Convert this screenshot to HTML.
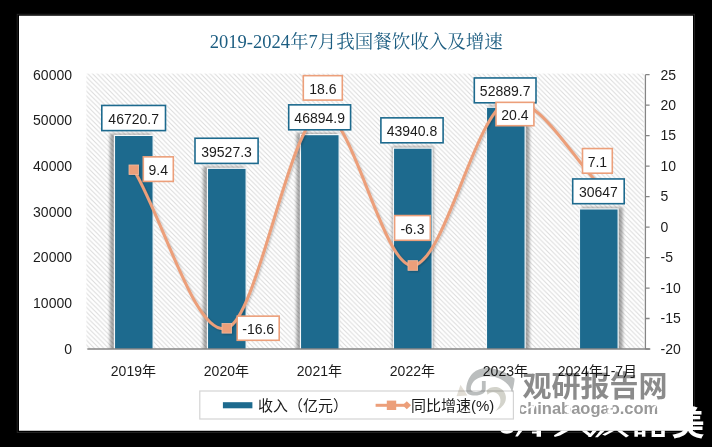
<!DOCTYPE html>
<html><head><meta charset="utf-8"><title>chart</title>
<style>html,body{margin:0;padding:0;background:#000;}body{width:712px;height:447px;overflow:hidden;font-family:"Liberation Sans",sans-serif;}svg{display:block}</style>
</head><body>
<svg width="712" height="447" viewBox="0 0 712 447">
<defs>
<pattern id="hatch" width="4.7" height="4.7" patternUnits="userSpaceOnUse">
<rect width="4.7" height="4.7" fill="#ffffff"/>
<path d="M-1,-1 L5.7,5.7 M-1,3.7 L1,5.7 M3.7,-1 L5.7,1" stroke="#dadada" stroke-width="0.95"/>
</pattern>
<filter id="sh" x="-30%" y="-10%" width="160%" height="120%">
<feGaussianBlur in="SourceAlpha" stdDeviation="2.0"/>
<feOffset dx="-1.7" dy="0.3"/>
<feComponentTransfer><feFuncA type="linear" slope="0.8"/></feComponentTransfer>
<feMerge><feMergeNode/><feMergeNode in="SourceGraphic"/></feMerge>
</filter>
<filter id="shl" x="-10%" y="-10%" width="120%" height="120%">
<feGaussianBlur in="SourceAlpha" stdDeviation="1.2"/>
<feOffset dx="0.5" dy="1"/>
<feComponentTransfer><feFuncA type="linear" slope="0.25"/></feComponentTransfer>
<feMerge><feMergeNode/><feMergeNode in="SourceGraphic"/></feMerge>
</filter>
</defs>
<rect width="712" height="447" fill="#000"/>
<rect x="17.2" y="14.25" width="677.4" height="418.3" fill="none" stroke="#262626" stroke-width="0.9"/>
<rect x="19.0" y="15.75" width="674.0" height="415.0" fill="#fff"/>
<rect x="86.4" y="73.6" width="557.4" height="275.4" fill="url(#hatch)"/>
<clipPath id="pc"><rect x="60" y="60" width="620" height="289.0"/></clipPath>
<filter id="bl" x="-5%" y="-5%" width="110%" height="110%"><feGaussianBlur stdDeviation="1.5"/></filter>
<g clip-path="url(#pc)">
<g filter="url(#bl)" opacity="0.34">
<rect x="109.85" y="133.61" width="41.5" height="222.99" fill="#000"/>
<rect x="203.05" y="166.49" width="41.5" height="190.11" fill="#000"/>
<rect x="296.45" y="132.81" width="41.5" height="223.79" fill="#000"/>
<rect x="392.05" y="146.32" width="41.5" height="210.28" fill="#000"/>
<rect x="488.05" y="105.41" width="41.5" height="251.19" fill="#000"/>
<rect x="581.25" y="207.09" width="41.5" height="149.51" fill="#000"/>
</g>
<rect x="114.45" y="135.41" width="38.7" height="219.59" fill="#1d6a8e" stroke="#f4f8fa" stroke-width="1.2"/>
<rect x="207.45" y="168.29" width="38.7" height="186.71" fill="#1d6a8e" stroke="#f4f8fa" stroke-width="1.2"/>
<rect x="300.45" y="134.61" width="38.7" height="220.39" fill="#1d6a8e" stroke="#f4f8fa" stroke-width="1.2"/>
<rect x="393.45" y="148.12" width="38.7" height="206.88" fill="#1d6a8e" stroke="#f4f8fa" stroke-width="1.2"/>
<rect x="486.45" y="107.21" width="38.7" height="247.79" fill="#1d6a8e" stroke="#f4f8fa" stroke-width="1.2"/>
<rect x="579.45" y="208.89" width="38.7" height="146.11" fill="#1d6a8e" stroke="#f4f8fa" stroke-width="1.2"/>
</g>
<path d="M87.3,349.0 H650.3" stroke="#858585" stroke-width="1.5" fill="none"/>
<path d="M645.4,74.7 V349.0 M645.4,74.70 h4.2M645.4,105.18 h4.2M645.4,135.66 h4.2M645.4,166.13 h4.2M645.4,196.61 h4.2M645.4,227.09 h4.2M645.4,257.57 h4.2M645.4,288.04 h4.2M645.4,318.52 h4.2M645.4,349.00 h4.2" stroke="#858585" stroke-width="1.3" fill="none"/>
<g filter="url(#shl)">
<path d="M133.80,169.79 C164.80,222.62 195.80,337.62 226.80,328.28 C257.80,318.93 288.80,124.18 319.80,113.71 C350.80,103.25 381.80,267.32 412.80,265.49 C443.80,263.66 474.80,116.35 505.80,102.74 C536.80,89.13 575.55,163.54 598.80,183.81" stroke="#ec9f7a" stroke-width="3.0" fill="none" stroke-linecap="round" stroke-linejoin="round"/>
<rect x="129.00" y="164.99" width="9.6" height="9.6" fill="#ec9f7a" stroke="#f3b99d" stroke-width="0.8"/>
<rect x="222.00" y="323.48" width="9.6" height="9.6" fill="#ec9f7a" stroke="#f3b99d" stroke-width="0.8"/>
<rect x="315.00" y="108.91" width="9.6" height="9.6" fill="#ec9f7a" stroke="#f3b99d" stroke-width="0.8"/>
<rect x="408.00" y="260.69" width="9.6" height="9.6" fill="#ec9f7a" stroke="#f3b99d" stroke-width="0.8"/>
<rect x="501.00" y="97.94" width="9.6" height="9.6" fill="#ec9f7a" stroke="#f3b99d" stroke-width="0.8"/>
<rect x="594.00" y="179.01" width="9.6" height="9.6" fill="#ec9f7a" stroke="#f3b99d" stroke-width="0.8"/>
</g>
<g font-family="'Liberation Sans','Noto Sans CJK SC',sans-serif" font-size="14" fill="#1c1c1c">
<rect x="101.8" y="105.44999999999999" width="63.70" height="25.15" fill="#fff" stroke="#1d6a8e" stroke-width="1.6"/>
<text x="133.65" y="124.07" text-anchor="middle">46720.7</text>
<rect x="195.0" y="138.25" width="63.10" height="25.15" fill="#fff" stroke="#1d6a8e" stroke-width="1.6"/>
<text x="226.55" y="156.88" text-anchor="middle">39527.3</text>
<rect x="288.7" y="104.85" width="61.90" height="24.95" fill="#fff" stroke="#1d6a8e" stroke-width="1.6"/>
<text x="319.65" y="123.37" text-anchor="middle">46894.9</text>
<rect x="380.9" y="117.85" width="62.20" height="24.95" fill="#fff" stroke="#1d6a8e" stroke-width="1.6"/>
<text x="412" y="136.38" text-anchor="middle">43940.8</text>
<rect x="474.3" y="77.94999999999999" width="61.70" height="24.85" fill="#fff" stroke="#1d6a8e" stroke-width="1.6"/>
<text x="505.15" y="96.42" text-anchor="middle">52889.7</text>
<rect x="572.7" y="178.95" width="51.50" height="24.75" fill="#fff" stroke="#1d6a8e" stroke-width="1.6"/>
<text x="598.45" y="197.38" text-anchor="middle">30647</text>
<rect x="143.29999999999998" y="156.85" width="30.00" height="24.55" fill="#fff" stroke="#ec9f7a" stroke-width="1.6"/>
<text x="158.3" y="175.18" text-anchor="middle">9.4</text>
<rect x="237.2" y="316.15000000000003" width="42.00" height="24.15" fill="#fff" stroke="#ec9f7a" stroke-width="1.6"/>
<text x="258.2" y="334.28" text-anchor="middle">-16.6</text>
<rect x="303.3" y="75.64999999999999" width="39.00" height="24.45" fill="#fff" stroke="#ec9f7a" stroke-width="1.6"/>
<text x="322.8" y="93.92" text-anchor="middle">18.6</text>
<rect x="394.59999999999997" y="215.54999999999998" width="35.70" height="24.75" fill="#fff" stroke="#ec9f7a" stroke-width="1.6"/>
<text x="412.45" y="233.97" text-anchor="middle">-6.3</text>
<rect x="496.0" y="102.35" width="37.90" height="23.35" fill="#fff" stroke="#ec9f7a" stroke-width="1.6"/>
<text x="514.95" y="120.08" text-anchor="middle">20.4</text>
<rect x="582.5" y="148.54999999999998" width="29.80" height="24.65" fill="#fff" stroke="#ec9f7a" stroke-width="1.6"/>
<text x="597.4" y="166.93" text-anchor="middle">7.1</text>
<text x="72" y="353.8" text-anchor="end">0</text>
<text x="72" y="308.08" text-anchor="end">10000</text>
<text x="72" y="262.37" text-anchor="end">20000</text>
<text x="72" y="216.65" text-anchor="end">30000</text>
<text x="72" y="170.93" text-anchor="end">40000</text>
<text x="72" y="125.22" text-anchor="end">50000</text>
<text x="72" y="79.5" text-anchor="end">60000</text>
<text x="660.5" y="353.8">-20</text>
<text x="660.5" y="323.32">-15</text>
<text x="660.5" y="292.84">-10</text>
<text x="660.5" y="262.37">-5</text>
<text x="660.5" y="231.9">0</text>
<text x="660.5" y="201.41">5</text>
<text x="660.5" y="170.93">10</text>
<text x="660.5" y="140.46">15</text>
<text x="660.5" y="109.98">20</text>
<text x="660.5" y="79.5">25</text>
<text x="133.4" y="375.7" text-anchor="middle">2019年</text>
<text x="226.4" y="375.7" text-anchor="middle">2020年</text>
<text x="319.4" y="375.7" text-anchor="middle">2021年</text>
<text x="412.4" y="375.7" text-anchor="middle">2022年</text>
<text x="505.4" y="375.7" text-anchor="middle">2023年</text>
<text x="597.4" y="375.7" text-anchor="middle">2024年1-7月</text>
</g>
<text x="356.3" y="47.7" text-anchor="middle" font-family="'Liberation Serif','Noto Serif CJK SC',serif" font-size="18.5" fill="#1c5d81">2019-2024年7月我国餐饮收入及增速</text>
<rect x="199.8" y="391.0" width="313.6" height="28.0" fill="#fff" stroke="#d4d4d4" stroke-width="1.2"/>
<rect x="222.9" y="402.2" width="29.5" height="6.1" fill="#1d6a8e"/>
<text x="258" y="411" font-family="'Liberation Sans','Noto Sans CJK SC',sans-serif" font-size="15" fill="#1c1c1c">收入（亿元）</text>
<path d="M375.6,405.3 H405" stroke="#ec9f7a" stroke-width="3" fill="none"/>
<rect x="386.8" y="400.6" width="9.4" height="9.4" fill="#ec9f7a"/>
<path d="M402.6,405.3 L406.8,401.3 L411,405.3 L406.8,409.3Z" fill="#ec9f7a"/>
<text x="411" y="411" font-family="'Liberation Sans','Noto Sans CJK SC',sans-serif" font-size="15" fill="#1c1c1c">同比增速(%)</text>
<g style="mix-blend-mode:multiply">
<path d="M512.2,392.5 C513.6,386.5 514.6,381.5 514.6,378.6 C509,374.4 502,370.4 494,368.7 C486,367 478,368.4 473,373 C468.4,377.4 466.2,384 466.2,390 C466,393.6 469.5,395.5 475,395.5 C481,395.5 485.7,393.2 485.7,389 V381 H481.9 V388.4 C481.9,391 479,391.9 475.5,391.9 C472,391.9 470.6,390.6 470.8,388 C471.5,383 474.5,379.6 480,377.6 C486,375.6 494,376 500,378.8 C506,381.5 510.5,386.5 512.2,392.5 Z" fill="#bbbebe"/>
<path d="M486.5,390.5 C490,386.8 496,386 500.5,388.5 C505,391 506.8,396 505.6,400.5 C504.4,405 500.6,408.8 495.5,411 C499,407.6 500.8,403.6 500.4,399.6 C500,395.6 497.4,392.6 493.4,392.2 C491,392 489,393 487.5,394.8 Z" fill="#d3d3cb"/>
<path d="M460.5,384.7 L467.4,395.6 L456.5,396.2 Z" fill="#e2ded6"/>
<text x="522.5" y="396.5" font-family="'Liberation Sans','Noto Sans CJK SC',sans-serif" font-size="29" font-weight="bold" fill="#8b8b8b">观研报告网</text>
<text x="518" y="414" font-family="'Liberation Sans',sans-serif" font-size="16.5" font-weight="bold" fill="#999999">chinabaogao.com</text>
</g>
<g fill="#fff">
<path d="M500.2,430.5 H513.6 C511.4,434.8 502.6,434.8 500.2,430.5Z"/>
<path d="M518.4,430.5 H522.6 L517.8,436.6 H515.2Z"/>
<path d="M536.6,430.5 H541 V436.8 H536.6Z M532,431.4 H541 V433.4 H532Z"/>
<path d="M561.8,430.5 H569 L560,435.4 L554.6,437 L554,435.2 Z"/>
<path d="M581.4,430.5 H586.4 L592.4,435.2 L589,436.6Z M592.6,430.5 H597 L591,437 H588Z"/>
<path d="M600.4,430.5 H605 L597.8,437.2 H595Z"/>
<path d="M610,430.5 H614.8 L605,435.8 L602.2,434.4Z"/>
<path d="M616.8,430.5 H621.6 L629,435.8 L626,437.4 Z"/>
<path d="M634.4,430.5 H637.9 V436.8 H634.4Z M641.9,430.5 H645.4 V436.8 H641.9Z M634.4,432.2 H645.4 V434.4 H634.4Z"/>
<path d="M651.6,430.5 H655 V434 H661.2 V430.5 H664.8 V437 H651.6Z"/>
<text x="671.5" y="434.5" font-family="'Liberation Sans','Noto Sans CJK SC',sans-serif" font-size="33" font-weight="bold" fill="#fff">美</text>
<path d="M517.4,404.5 h3.2 l-0.8,10 h-2.4z M523.8,400.8 l4,0 l-1.2,4.2 l-2.8,0z M524.5,408.6 l8,-3.5 l0.6,1.6 l-8,3.6z M533.8,404 l2,0 l-2.6,8.5 l-1.8,0z M566.8,405.6 h3.4 v8 h-3.4z M606.8,405.2 h5.8 v3 h-5.8z M607.4,409.6 h5.6 v4.2 h-5.6z M613,408.4 h3 v1.4 h-3z M654.5,405.5 l2,0 l-3,7.5 l-2,0z M657,409 h4 v1.4 h-4z M660.2,405.4 l1.6,0 l-2,6 l-1.6,0z"/>
</g>
</svg>
</body></html>
